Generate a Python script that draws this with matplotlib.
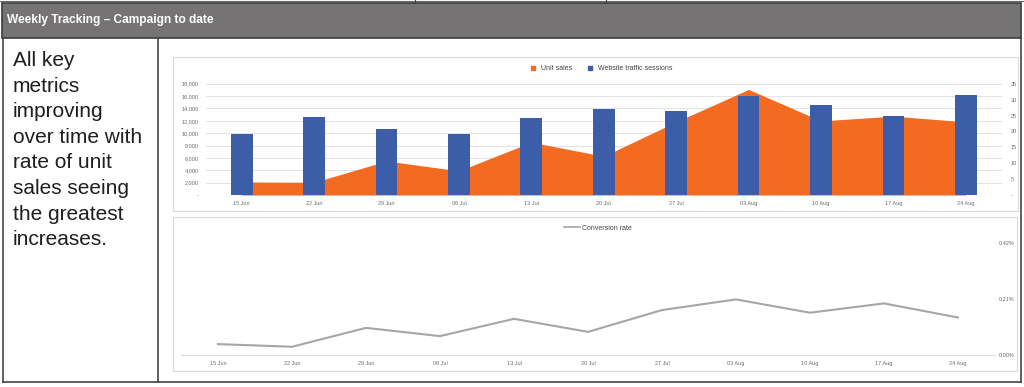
import matplotlib
matplotlib.use('Agg')
import matplotlib.pyplot as plt
from matplotlib.lines import Line2D
from matplotlib.patches import Rectangle

# Data
weeks = ['15 Jun', '22 Jun', '29 Jun', '06 Jul', '13 Jul', '20 Jul',
         '27 Jul', '03 Aug', '10 Aug', '17 Aug', '24 Aug']
traffic_sessions = [9850, 12540, 10650, 9890, 12430, 13950, 13510, 15940, 14600, 12810, 16100]
unit_sales = [4.1, 4.0, 10.7, 7.6, 16.6, 12.2, 23.0, 33.2, 23.3, 24.8, 23.0]
conversion_pct = [0.041, 0.031, 0.102, 0.071, 0.136, 0.087, 0.169, 0.209, 0.159, 0.194, 0.141]

left_ticks = [0, 2000, 4000, 6000, 8000, 10000, 12000, 14000, 16000, 18000]
right_ticks = [0, 5, 10, 15, 20, 25, 30, 35]
conv_ticks = [0.0, 0.21, 0.42]

header = 'Weekly Tracking \u2013 Campaign to date'
note_lines = ['All key', 'metrics', 'improving', 'over time with', 'rate of unit',
              'sales seeing', 'the greatest', 'increases.']

ORANGE = '#F26B21'
BLUE = '#3C5DA8'
GREY_LINE = '#A6A6A6'
TICK_COL = '#6b6b6b'

W, H = 1024, 387
plt.rcParams['font.family'] = ['Liberation Sans', 'DejaVu Sans']

fig = plt.figure(figsize=(W / 100, H / 100), dpi=100)


def fx(px):
    return px / W


def fy(py):
    return 1 - py / H


def box(x0, y0, x1, y1):
    # axes rect from pixel corners (y measured from top)
    return [fx(x0), fy(y1), fx(x1) - fx(x0), fy(y0) - fy(y1)]


# background layer: table frame, header band and chart boxes
bg = fig.add_axes([0, 0, 1, 1], zorder=0)
bg.set_xlim(0, W)
bg.set_ylim(H, 0)
bg.axis('off')
bg.add_patch(Rectangle((2, 2.5), 1019, 35.5, facecolor='#767374', edgecolor='#3c3c3c', lw=1.2))
bg.plot([0, W], [1.2, 1.2], color='#666666', lw=0.8)
for xv in (415, 606):
    bg.plot([xv, xv], [0, 2.5], color='#444444', lw=0.8)
frame = '#444444'
bg.plot([2.5, 2.5], [38, 382], color=frame, lw=1.2)
bg.plot([157.7, 157.7], [38, 382], color=frame, lw=1.2)
bg.plot([1021, 1021], [38, 382], color=frame, lw=1.2)
bg.plot([2.5, 1021], [382, 382], color=frame, lw=1.2)
bg.add_patch(Rectangle((172.7, 56.7), 845.5, 154, facecolor='white', edgecolor='#dadada', lw=0.8))
bg.add_patch(Rectangle((172.7, 216.7), 844, 154, facecolor='white', edgecolor='#dadada', lw=0.8))

bg.text(7, 20.5, header, color='white', fontsize=8.6, fontweight='bold', va='center', ha='left')
for i, line in enumerate(note_lines):
    bg.text(13, 66 + i * 25.6, line, fontsize=15, color='#1e1e1e', va='baseline', ha='left')

x = list(range(len(weeks)))

# ---- top chart: grid axis, area (right axis) and bars (left axis)
ax = fig.add_axes(box(205.5, 83.7, 1002, 195), zorder=1)
ax.set_xlim(-0.5, len(weeks) - 0.5)
ax.set_ylim(0, 18000)
ax.set_yticks(left_ticks)
ax.set_yticklabels(['-' if v == 0 else f'{v:,}' for v in left_ticks])
ax.set_xticks(x)
ax.set_xticklabels(weeks)
ax.grid(axis='y', color='#e3e3e3', lw=0.7)
ax.set_axisbelow(True)
ax.tick_params(length=0, labelsize=4, colors=TICK_COL)
ax.tick_params(axis='y', pad=5)
ax.tick_params(axis='x', pad=4.5)
for s in ax.spines.values():
    s.set_visible(False)
ax.patch.set_visible(False)

ax2 = ax.twinx()
ax2.fill_between(x, unit_sales, 0, color=ORANGE, lw=0)
ax2.set_ylim(0, 35)
ax2.set_yticks(right_ticks)
ax2.set_yticklabels(['-' if v == 0 else str(v) for v in right_ticks])
ax2.tick_params(length=0, labelsize=4, colors=TICK_COL, pad=6)
for s in ax2.spines.values():
    s.set_visible(False)

ax3 = ax.twinx()
ax3.bar(x, traffic_sessions, width=0.3, color=BLUE)
ax3.set_ylim(0, 18000)
ax3.axis('off')

fig.legend(handles=[Line2D([], [], marker='s', ls='', color=ORANGE, markersize=3),
                    Line2D([], [], marker='s', ls='', color=BLUE, markersize=3)],
           labels=['Unit sales', 'Website traffic sessions'],
           loc='center', bbox_to_anchor=(fx(599), fy(69)), ncol=2, frameon=False,
           fontsize=5, handletextpad=0.2, columnspacing=1.5, labelcolor='#444444')

# ---- bottom chart: conversion rate line
axb = fig.add_axes(box(181, 243.3, 995, 355), zorder=1)
axb.plot(x, conversion_pct, color=GREY_LINE, lw=1.5)
axb.set_xlim(-0.5, len(weeks) - 0.5)
axb.set_ylim(0, 0.42)
axb.set_xticks(x)
axb.set_xticklabels(weeks)
axb.yaxis.tick_right()
axb.set_yticks(conv_ticks)
axb.set_yticklabels([f'{v:.2f}%' for v in conv_ticks])
axb.tick_params(length=0, labelsize=4, colors=TICK_COL)
axb.tick_params(axis='y', pad=3)
axb.tick_params(axis='x', pad=4)
for name, s in axb.spines.items():
    s.set_visible(name == 'bottom')
axb.spines['bottom'].set_color('#d9d9d9')
axb.spines['bottom'].set_linewidth(0.7)
axb.patch.set_visible(False)

fig.legend(handles=[Line2D([], [], color=GREY_LINE, lw=1.2)], labels=['Conversion rate'],
           loc='center', bbox_to_anchor=(fx(598), fy(228)), frameon=False, fontsize=5,
           handlelength=2.2, handletextpad=0.3, labelcolor='#444444')

fig.savefig('out.png', dpi=100, facecolor='white')
